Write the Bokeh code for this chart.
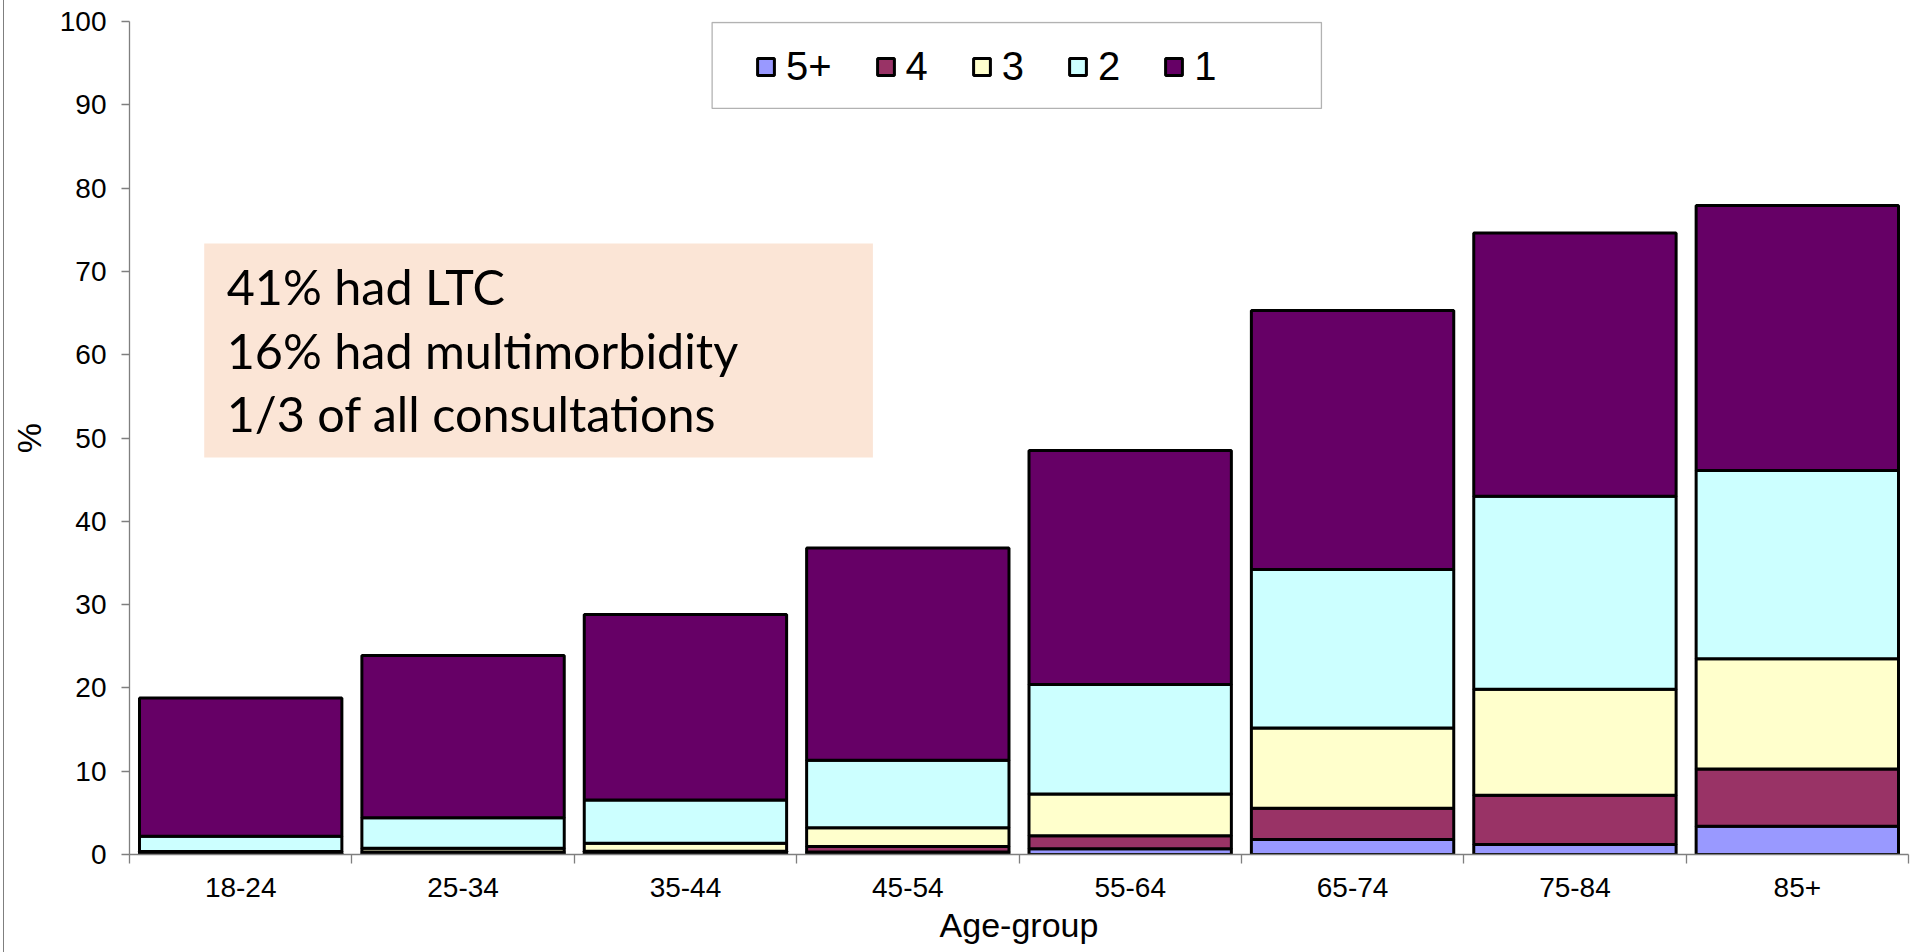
from bokeh.plotting import figure
from bokeh.models import (ColumnDataSource, Range1d, FixedTicker, BoxAnnotation,
                          Label, LinearAxis)
from bokeh.embed import file_html
from bokeh.resources import INLINE

# Share of patients with long-term conditions, by age group and number of conditions
age_groups = ["18-24", "25-34", "35-44", "45-54", "55-64", "65-74", "75-84", "85+"]
n_conditions = ["5+", "4", "3", "2", "1"]          # stacked bottom to top
share_5plus = [0.05, 0.1, 0.1, 0.3, 0.7, 1.8, 1.2, 3.4]
share_4 = [0.1, 0.2, 0.3, 0.65, 1.55, 3.75, 5.9, 6.85]
share_3 = [0.2, 0.45, 0.95, 2.25, 5.0, 9.65, 12.75, 13.25]
share_2 = [1.85, 3.65, 5.2, 8.1, 13.15, 19.0, 23.15, 22.6]
share_1 = [16.6, 19.5, 22.25, 25.5, 28.1, 31.1, 31.6, 31.8]
y_ticks = [0, 10, 20, 30, 40, 50, 60, 70, 80, 90, 100]
notes = ["41% had LTC", "16% had multimorbidity", "1/3 of all consultations"]

colors = ["#9999FF", "#993366", "#FFFFCC", "#CCFFFF", "#660066"]
AXIS_GREY = "#7f7f7f"
FONT = "Liberation Sans"

positions = [i + 0.5 for i in range(len(age_groups))]
source = ColumnDataSource(dict(
    x=positions,
    **{"5+": share_5plus, "4": share_4, "3": share_3, "2": share_2, "1": share_1},
))

p = figure(width=1914, height=952,
           x_range=Range1d(0, len(age_groups)), y_range=Range1d(0, 100),
           output_backend="svg", toolbar_location=None,
           min_border_left=125, min_border_right=10,
           min_border_top=21, min_border_bottom=98,
           x_axis_type=None, y_axis_type=None)
p.styles = {"margin-left": "3px", "border-left": "1px solid #7f7f7f"}
p.outline_line_color = None
p.xgrid.visible = False
p.ygrid.visible = False

p.vbar_stack(n_conditions, x="x", width=0.91, source=source,
             fill_color=colors, line_color="black", line_width=3,
             legend_label=n_conditions)

# x axis: labels under each bar, tick marks between groups
xaxis = LinearAxis(
    ticker=FixedTicker(ticks=positions, minor_ticks=list(range(len(age_groups) + 1))),
    major_label_overrides={pos: lab for pos, lab in zip(positions, age_groups)},
    axis_label="Age-group")
xaxis.major_tick_out = 0
xaxis.major_tick_in = 0
xaxis.minor_tick_out = 9
xaxis.minor_tick_in = 0
xaxis.major_label_standoff = 14
xaxis.axis_label_standoff = 6
p.add_layout(xaxis, "below")

yaxis = LinearAxis(ticker=FixedTicker(ticks=y_ticks), axis_label="%")
yaxis.major_tick_out = 8
yaxis.major_tick_in = 0
yaxis.minor_tick_out = 0
yaxis.minor_tick_in = 0
yaxis.major_label_standoff = 15
yaxis.axis_label_standoff = 9
p.add_layout(yaxis, "left")

for ax in (xaxis, yaxis):
    ax.axis_line_color = AXIS_GREY
    ax.axis_line_width = 1.3
    ax.major_tick_line_color = AXIS_GREY
    ax.minor_tick_line_color = AXIS_GREY
    ax.major_tick_line_width = 1.3
    ax.minor_tick_line_width = 1.3
    ax.major_label_text_font = FONT
    ax.major_label_text_color = "black"
    ax.axis_label_text_font = FONT
    ax.axis_label_text_font_style = "normal"
    ax.axis_label_text_color = "black"
    ax.axis_label_text_font_size = "34px"
xaxis.major_label_text_font_size = "28px"
yaxis.major_label_text_font_size = "28px"

# legend across the top, framed by its own box
leg = p.legend[0]
leg.orientation = "horizontal"
leg.location = (616, 755)
leg.glyph_width = 21
leg.glyph_height = 21
leg.label_standoff = 10
leg.spacing = 43
leg.padding = 10
leg.margin = 0
leg.label_text_font = FONT
leg.label_text_font_size = "40px"
leg.label_text_color = "black"
leg.border_line_alpha = 0
leg.background_fill_alpha = 0
p.add_layout(BoxAnnotation(left=2.62, right=5.36, bottom=89.56, top=99.88,
                           fill_alpha=0, line_color="black", line_width=1.3,
                           level="overlay"))

# summary note box
p.add_layout(BoxAnnotation(left=0.336, right=3.343, bottom=47.66, top=73.35,
                           fill_color="#FBE5D6", fill_alpha=1, line_alpha=0,
                           level="underlay"))
for txt, yb in zip(notes, [68.3, 60.6, 53.0]):
    p.add_layout(Label(x=0.437, y=yb, text=txt, text_font="Lato",
                       text_font_size="48.5px", text_color="black",
                       text_baseline="alphabetic", text_align="left"))

open("out.html", "w").write(file_html(p, INLINE))
